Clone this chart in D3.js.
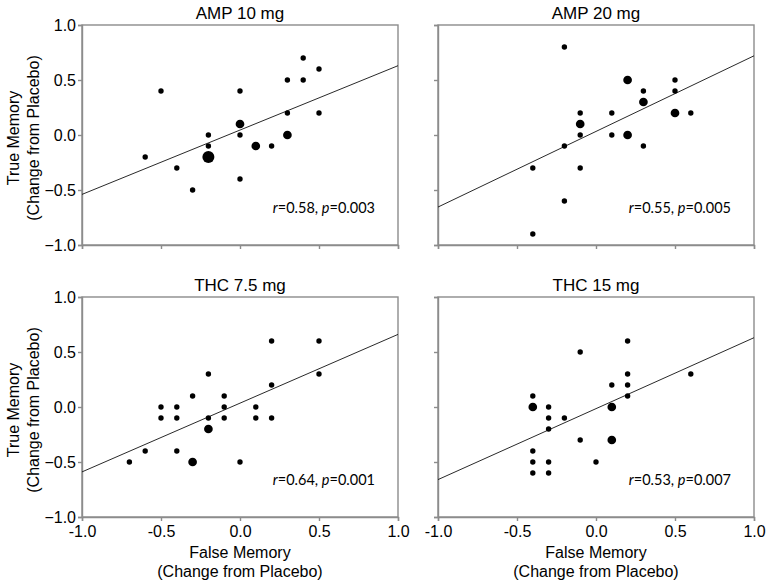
<!DOCTYPE html>
<html>
<head>
<meta charset="utf-8">
<script src="https://cdn.jsdelivr.net/npm/d3@7/dist/d3.min.js"></script>
<style>
  html, body { margin: 0; padding: 0; background: #fff; }
  svg { display: block; }
  text { font-family: "Liberation Sans", Arial, sans-serif; fill: #000; }
</style>
</head>
<body>
<svg id="chart" width="771" height="586"></svg>
<script>
// ---- data (x = false memory change, y = true memory change, n = number of overlapping participants)
const panelTitles = ["AMP 10 mg", "AMP 20 mg", "THC 7.5 mg", "THC 15 mg"];
const statR = ["0.58", "0.55", "0.64", "0.53"];
const statP = ["0.003", "0.005", "0.001", "0.007"];
const tickValues = [-1.0, -0.5, 0.0, 0.5, 1.0];
const xAxisTitle = ["False Memory", "(Change from Placebo)"];
const yAxisTitle = ["True Memory", "(Change from Placebo)"];

const amp10Points = [
  [-0.6,-0.2,1],[-0.5,0.4,1],[-0.4,-0.3,1],[-0.3,-0.5,1],[-0.2,0.0,1],[-0.2,-0.1,1],
  [-0.2,-0.2,3],[0.0,0.4,1],[0.0,0.1,2],[0.0,0.0,1],[0.0,-0.4,1],[0.1,-0.1,2],
  [0.2,-0.1,1],[0.3,0.5,1],[0.3,0.2,1],[0.3,0.0,2],[0.4,0.7,1],[0.4,0.5,1],
  [0.5,0.6,1],[0.5,0.2,1]
];
const amp20Points = [
  [-0.2,0.8,1],[0.2,0.5,2],[0.5,0.5,1],[0.3,0.4,1],[0.5,0.4,1],[0.3,0.3,2],
  [-0.1,0.2,1],[0.1,0.2,1],[0.5,0.2,2],[0.6,0.2,1],[-0.1,0.1,2],[-0.1,0.0,1],
  [0.1,0.0,1],[0.2,0.0,2],[-0.2,-0.1,1],[0.3,-0.1,1],[-0.4,-0.3,1],[-0.1,-0.3,1],
  [-0.2,-0.6,1],[-0.4,-0.9,1]
];
const thc75Points = [
  [0.2,0.6,1],[0.5,0.6,1],[-0.2,0.3,1],[0.5,0.3,1],[0.2,0.2,1],[-0.3,0.1,1],
  [-0.1,0.1,1],[-0.5,0.0,1],[-0.4,0.0,1],[-0.1,0.0,1],[0.1,0.0,1],[-0.5,-0.1,1],
  [-0.4,-0.1,1],[-0.2,-0.1,1],[-0.1,-0.1,1],[0.1,-0.1,1],[0.2,-0.1,1],[-0.2,-0.2,2],
  [-0.6,-0.4,1],[-0.4,-0.4,1],[-0.7,-0.5,1],[-0.3,-0.5,2],[0.0,-0.5,1]
];
const thc15Points = [
  [0.2,0.6,1],[-0.1,0.5,1],[0.6,0.3,1],[0.2,0.3,1],[0.1,0.2,1],[0.2,0.2,1],
  [-0.4,0.1,1],[0.2,0.1,1],[-0.4,0.0,2],[-0.3,0.0,1],[0.1,0.0,2],[-0.3,-0.1,1],
  [-0.2,-0.1,1],[-0.3,-0.2,1],[-0.1,-0.3,1],[0.1,-0.3,2],[-0.4,-0.4,1],[-0.4,-0.5,1],
  [-0.3,-0.5,1],[0.0,-0.5,1],[-0.4,-0.6,1],[-0.3,-0.6,1]
];
// regression line values at x = -1 and x = 1
const fitLines = [[-0.54, 0.63], [-0.655, 0.72], [-0.59, 0.66], [-0.66, 0.63]];
const allPoints = [amp10Points, amp20Points, thc75Points, thc15Points];

// ---- layout
const svg = d3.select("#chart");
const W = 316, H = 220;
const lefts = [82, 438], tops = [25, 297];
const axisColor = "#8c8c8c";

const x = d3.scaleLinear().domain([-1, 1]).range([0, W]);
const y = d3.scaleLinear().domain([-1, 1]).range([H, 0]);
const r = d3.scaleLinear().domain([1, 3]).range([2.7, 6]);

allPoints.forEach((pts, i) => {
  const col = i % 2, row = Math.floor(i / 2);
  const g = svg.append("g").attr("transform", `translate(${lefts[col]},${tops[row]})`);

  // frame
  g.append("rect").attr("x", 0).attr("y", 0).attr("width", W).attr("height", H)
    .attr("fill", "none").attr("stroke", axisColor).attr("stroke-width", 1.4);

  // axes
  const xa = d3.axisBottom(x).tickValues(tickValues).tickSize(4).tickPadding(5)
    .tickFormat(row === 1 ? d3.format(".1f") : () => "");
  const ya = d3.axisLeft(y).tickValues(tickValues).tickSize(4).tickPadding(2)
    .tickFormat(col === 0 ? d3.format(".1f") : () => "");
  const gx = g.append("g").attr("transform", `translate(0,${H})`).call(xa);
  const gy = g.append("g").call(ya);
  [gx, gy].forEach(a => {
    a.select(".domain").attr("stroke", axisColor).attr("stroke-width", 1.4);
    a.selectAll(".tick line").attr("stroke", axisColor).attr("stroke-width", 1.4);
    a.selectAll(".tick text").attr("font-family", "Liberation Sans, Arial, sans-serif")
      .attr("font-size", 16).attr("fill", "#000");
  });
  gx.selectAll(".tick text").text(d => row === 1 ? d.toFixed(1).replace("-", "-") : "");

  // regression line
  g.append("line")
    .attr("x1", x(-1)).attr("y1", y(fitLines[i][0]))
    .attr("x2", x(1)).attr("y2", y(fitLines[i][1]))
    .attr("stroke", "#111").attr("stroke-width", 0.9);

  // points
  g.selectAll("circle.pt").data(pts).enter().append("circle")
    .attr("class", "pt")
    .attr("cx", d => x(d[0])).attr("cy", d => y(d[1])).attr("r", d => r(d[2]))
    .attr("fill", "#000");

  // title
  g.append("text").attr("x", W / 2).attr("y", -6).attr("text-anchor", "middle")
    .attr("font-size", 17).text(panelTitles[i]);

  // stats
  const t = g.append("text").attr("x", W - 23).attr("y", H - 32).attr("text-anchor", "end")
    .style("font-family", "Lato, 'Open Sans', sans-serif").attr("font-size", 14.5).attr("fill", "#222");
  t.append("tspan").attr("font-style", "italic").text("r");
  t.append("tspan").text("=" + statR[i] + ", ");
  t.append("tspan").attr("font-style", "italic").text("p");
  t.append("tspan").text("=" + statP[i]);
});

// x axis titles
lefts.forEach(l => {
  svg.append("text").attr("x", l + W / 2).attr("y", 558).attr("text-anchor", "middle")
    .attr("font-size", 16).text(xAxisTitle[0]);
  svg.append("text").attr("x", l + W / 2).attr("y", 577).attr("text-anchor", "middle")
    .attr("font-size", 16).text(xAxisTitle[1]);
});
// y axis titles
tops.forEach(tp => {
  const cy = tp + H / 2 + 3;
  svg.append("text").attr("transform", `translate(19,${cy}) rotate(-90)`).attr("text-anchor", "middle")
    .attr("font-size", 16).text(yAxisTitle[0]);
  svg.append("text").attr("transform", `translate(39,${cy}) rotate(-90)`).attr("text-anchor", "middle")
    .attr("font-size", 16).text(yAxisTitle[1]);
});
</script>
</body>
</html>
